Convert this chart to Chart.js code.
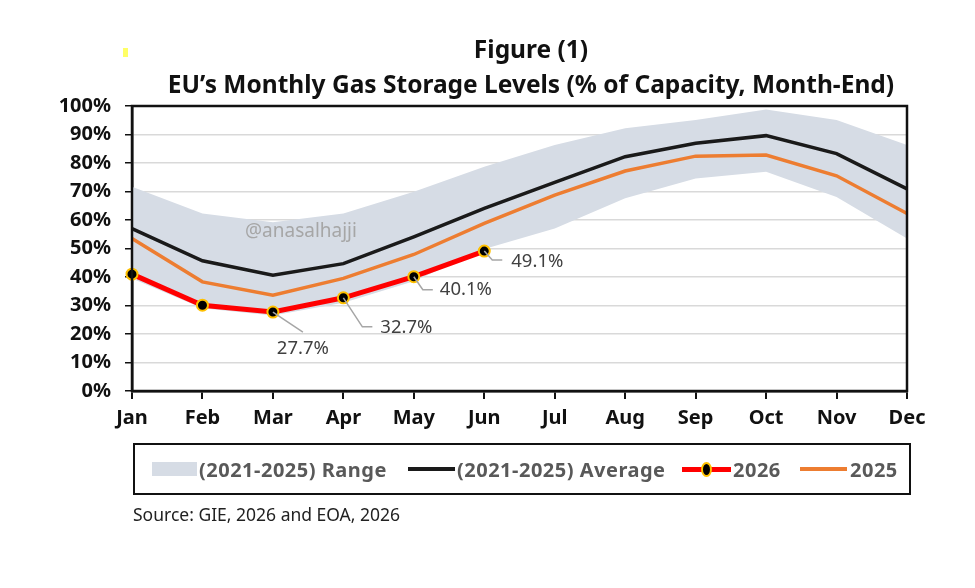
<!DOCTYPE html>
<html>
<head>
<meta charset="utf-8">
<script src="https://cdn.jsdelivr.net/npm/chart.js@4.4.1/dist/chart.umd.min.js"></script>
<style>
  body { margin: 0; background: #fff; font-family: "Noto Sans", sans-serif; }
  #wrap { position: relative; width: 975px; height: 588px; }
  canvas { position: absolute; left: 0; top: 0; }
  .title { position: absolute; left: 0; width: 1062px; text-align: center; font-weight: bold; color: #111; font-size: 24.5px; line-height: 32px; }
  #legend { position: absolute; left: 133px; top: 443px; width: 774px; height: 48px; border: 2px solid #111;
            font-weight: bold; font-size: 20px; letter-spacing: 0.5px; color: #595959; }
  .item { position: absolute; top: 0; height: 48px; display: flex; align-items: center; white-space: nowrap; }
  .sw { display: inline-block; }
  #source { position: absolute; left: 133px; top: 502px; font-size: 17.5px; line-height: 24px; color: #222; }
  #mark { position: absolute; left: 123px; top: 48px; width: 5px; height: 9px; background: #ffff66; }
</style>
</head>
<body>
<div id="wrap">
  <canvas id="chart" width="975" height="588"></canvas>
  <div id="mark"></div>
  <div class="title" style="top:33px">Figure (1)</div>
  <div class="title" style="top:68px">EU’s Monthly Gas Storage Levels (% of Capacity, Month-End)</div>
  <div id="legend">
    <div class="item" style="left:17px"><span class="sw" style="width:45px;height:14px;background:#d6dce5;margin-right:2px"></span>(2021-2025) Range</div>
    <div class="item" style="left:273px"><span class="sw" style="width:47px;height:4px;background:#1a1a1a;margin-right:2px"></span>(2021-2025) Average</div>
    <div class="item" style="left:547px"><span class="sw" style="position:relative;width:49px;height:5px;background:#ff0000;margin-right:2px"><span style="position:absolute;left:19px;top:-5px;width:7px;height:11px;border-radius:50%;background:#000;border:2px solid #ffc000;box-sizing:content-box"></span></span>2026</div>
    <div class="item" style="left:665px"><span class="sw" style="width:47px;height:4px;background:#ed7d31;margin-right:3px"></span>2025</div>
  </div>
  <div id="source">Source: GIE, 2026 and EOA, 2026</div>
</div>
<script>
const months = ["Jan", "Feb", "Mar", "Apr", "May", "Jun", "Jul", "Aug", "Sep", "Oct", "Nov", "Dec"];
const rangeHigh = [71.7, 62.3, 59.2, 62.3, 69.9, 78.7, 86.3, 92.2, 95.1, 98.8, 95.1, 86.3];
const rangeLow  = [39.5, 29.0, 26.5, 31.0, 38.5, 49.8, 57.0, 67.6, 74.6, 76.9, 68.1, 53.5];
const avg2125   = [57.0, 45.7, 40.6, 44.7, 54.1, 64.1, 73.2, 82.2, 86.9, 89.6, 83.3, 70.9];
const y2025     = [53.5, 38.3, 33.6, 39.5, 47.9, 58.8, 68.7, 77.2, 82.4, 82.8, 75.5, 62.3];
const y2026     = [41.0, 30.1, 27.7, 32.7, 40.1, 49.1];
const yTicks    = [0, 10, 20, 30, 40, 50, 60, 70, 80, 90, 100];

// where the value labels for 2026 sit, relative to their point
const labelSpots = {
  2: { lead: [[30, 20]], text: [30, 37], align: "center" },
  3: { lead: [[19, 29], [29, 29]], text: [37, 30], align: "left" },
  4: { lead: [[9, 13], [19, 13]], text: [26, 13], align: "left" },
  5: { lead: [[8, 9], [18, 9]], text: [27, 11], align: "left" }
};

const extras = {
  id: "extras",
  afterDatasetsDraw(chart) {
    const ctx = chart.ctx;
    ctx.save();
    ctx.font = "19px 'Noto Sans'";
    ctx.fillStyle = "#a6a6a6";
    ctx.textBaseline = "middle";
    ctx.fillText("@anasalhajji", 245, 232);
    ctx.restore();
  },
  afterDraw(chart) {
    const { ctx, chartArea: a } = chart;
    ctx.save();
    ctx.strokeStyle = "#111";
    ctx.lineWidth = 2.5;
    ctx.strokeRect(a.left, a.top, a.right - a.left, a.bottom - a.top);
    const meta = chart.getDatasetMeta(0);
    ctx.font = "18.5px 'Noto Sans'";
    ctx.fillStyle = "#404040";
    ctx.textBaseline = "middle";
    Object.keys(labelSpots).forEach(k => {
      const i = +k, s = labelSpots[k], p = meta.data[i];
      ctx.strokeStyle = "#a6a6a6";
      ctx.lineWidth = 1.5;
      ctx.beginPath();
      ctx.moveTo(p.x, p.y);
      s.lead.forEach(([dx, dy]) => ctx.lineTo(p.x + dx, p.y + dy));
      ctx.stroke();
      ctx.textAlign = s.align;
      ctx.fillText(y2026[i].toFixed(1) + "%", p.x + s.text[0], p.y + s.text[1]);
    });
    ctx.restore();
  }
};

new Chart(document.getElementById("chart"), {
  type: "line",
  data: {
    labels: months,
    datasets: [
      {
        label: "2026", data: y2026, order: 1,
        borderColor: "#ff0000", borderWidth: 5,
        pointRadius: 5.5, pointBackgroundColor: "#000", pointBorderColor: "#ffc000", pointBorderWidth: 2,
        tension: 0, fill: false
      },
      { label: "2025", data: y2025, order: 2, borderColor: "#ed7d31", borderWidth: 3.5, pointRadius: 0, tension: 0, fill: false },
      { label: "(2021-2025) Average", data: avg2125, order: 3, borderColor: "#1a1a1a", borderWidth: 3.5, pointRadius: 0, tension: 0, fill: false },
      { label: "high", data: rangeHigh, order: 4, borderWidth: 0, pointRadius: 0, tension: 0, backgroundColor: "#d6dce5", fill: "+1" },
      { label: "low", data: rangeLow, order: 5, borderWidth: 0, pointRadius: 0, tension: 0, fill: false }
    ]
  },
  options: {
    responsive: false,
    animation: false,
    layout: { padding: { left: 42, right: 68, top: 106, bottom: 157 } },
    plugins: { legend: { display: false }, title: { display: false }, tooltip: { enabled: false } },
    scales: {
      x: {
        offset: false,
        afterFit: s => { s.height = 40; },
        grid: { drawOnChartArea: false, color: "#111", lineWidth: 2, tickLength: 8 },
        border: { color: "#111", width: 2.5 },
        ticks: { color: "#111", padding: 7, font: { family: "Noto Sans", weight: "bold", size: 20 } }
      },
      y: {
        min: 0, max: 100,
        afterFit: s => { s.width = 90; },
        afterBuildTicks: s => { s.ticks = yTicks.map(v => ({ value: v })); },
        grid: { color: "#d9d9d9", lineWidth: 1.5, tickColor: "#111", tickLength: 7 },
        border: { color: "#111", width: 2.5 },
        ticks: { color: "#111", padding: 14, callback: v => v + "%", font: { family: "Noto Sans", weight: "bold", size: 20 } }
      }
    }
  },
  plugins: [extras]
});
</script>
</body>
</html>
